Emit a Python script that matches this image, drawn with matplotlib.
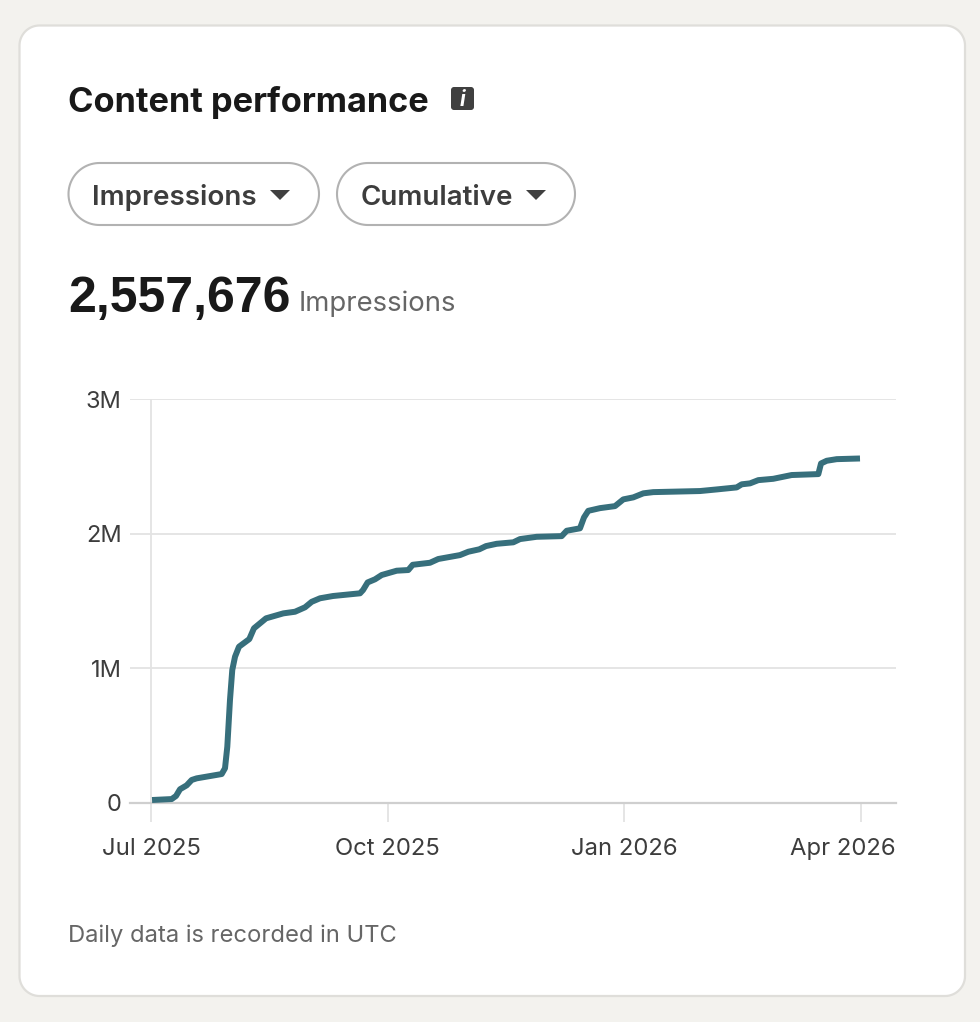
import matplotlib
matplotlib.use("Agg")
import matplotlib.pyplot as plt
import numpy as np
from matplotlib.patches import Polygon
from matplotlib.transforms import ScaledTranslation

# ---- data ----
months = [0.013, 0.262, 0.317, 0.368, 0.452, 0.516, 0.579, 0.896, 0.938, 0.967, 1.001, 1.030,
          1.065, 1.115, 1.246, 1.305, 1.458, 1.677, 1.825, 1.952, 2.037, 2.142, 2.307, 2.649,
          2.687, 2.746, 2.839, 2.924, 3.114, 3.261, 3.317, 3.536, 3.641, 3.916, 4.022, 4.161,
          4.246, 4.381, 4.592, 4.677, 4.888, 5.205, 5.269, 5.437, 5.488, 5.542, 5.691, 5.881,
          5.986, 6.113, 6.240, 6.366, 6.958, 7.170, 7.423, 7.487, 7.592, 7.697, 7.887, 8.120,
          8.458, 8.492, 8.564, 8.691, 8.986]
impressions_m = [0.020, 0.027, 0.050, 0.100, 0.129, 0.169, 0.181, 0.213, 0.256, 0.416, 0.763, 0.986,
                 1.085, 1.159, 1.216, 1.296, 1.370, 1.407, 1.419, 1.452, 1.493, 1.519, 1.536, 1.556,
                 1.580, 1.637, 1.660, 1.692, 1.724, 1.729, 1.768, 1.783, 1.811, 1.840, 1.865, 1.883,
                 1.907, 1.924, 1.935, 1.959, 1.976, 1.981, 2.021, 2.039, 2.120, 2.169, 2.189, 2.204,
                 2.254, 2.269, 2.299, 2.308, 2.316, 2.328, 2.343, 2.366, 2.373, 2.397, 2.407, 2.435,
                 2.442, 2.521, 2.541, 2.553, 2.558]
x_tick_pos = [0, 3, 6, 9]
x_tick_labels = ["Jul 2025", "Oct 2025", "Jan 2026", "Apr 2026"]
y_tick_pos = [0, 1, 2, 3]
y_tick_labels = ["0", "1M", "2M", "3M"]

W, H = 980, 1022
plt.rcParams["font.family"] = ["Inter", "Liberation Sans", "DejaVu Sans"]
fig = plt.figure(figsize=(W / 100, H / 100), dpi=100, facecolor="#f3f2ee")

# page furniture in pixel coordinates
bg = fig.add_axes([0, 0, 1, 1], zorder=0)
bg.set_xlim(0, W); bg.set_ylim(H, 0); bg.axis("off")

def rbox(x0, y0, x1, y1, r, **kw):
    a = np.linspace(0, np.pi / 2, 24)
    pts = []
    for cx, cy, start in [(x1 - r, y1 - r, 0), (x0 + r, y1 - r, np.pi / 2),
                          (x0 + r, y0 + r, np.pi), (x1 - r, y0 + r, 1.5 * np.pi)]:
        pts.extend(zip(cx + r * np.cos(a + start), cy + r * np.sin(a + start)))
    bg.add_patch(Polygon(pts, closed=True, **kw))

rbox(19.5, 25.5, 965, 996, 20, fc="white", ec="#dfdeda", lw=1.6)
rbox(68.5, 163, 319, 225, 31, fc="white", ec="#b2b2b2", lw=1.5)
rbox(337, 163, 575, 225, 31, fc="white", ec="#b2b2b2", lw=1.5)
rbox(451, 87, 474, 110, 3, fc="#404040", ec="none")
bg.add_patch(Polygon([(270, 190), (290, 190), (280, 200)], fc="#404040", ec="none"))
bg.add_patch(Polygon([(526, 190), (546, 190), (536, 200)], fc="#404040", ec="none"))

ink = "#191919"; mid = "#3d3d3d"; soft = "#666666"
bg.text(68, 99, "Content performance", fontsize=24.7, fontweight="bold", color=ink, va="center_baseline")
bg.text(462.5, 98, "i", fontsize=15, fontweight="bold", style="italic", color="white", ha="center", va="center_baseline")
bg.text(92, 194.5, "Impressions", fontsize=20, fontweight="semibold", color=mid, va="center_baseline")
bg.text(361, 195, "Cumulative", fontsize=20, fontweight="semibold", color=mid, va="center_baseline")
bg.text(68, 294, "2,557,676", fontsize=36, fontweight="bold", family="Liberation Sans", color=ink, va="center_baseline")
bg.text(299, 300.5, "Impressions", fontsize=19.8, color=soft, va="center_baseline")
bg.text(68, 933.5, "Daily data is recorded in UTC", fontsize=17.1, color=soft, va="center_baseline")

# chart
L, R, T, B = 130, 896, 399, 802.7
ax = fig.add_axes([L / W, 1 - B / H, (R - L) / W, (B - T) / H], zorder=1)
ax.patch.set_alpha(0)
ax.set_xlim((L - 151) / 78.9, (R - 151) / 78.9)
ax.set_ylim(0, 3)
for s in ax.spines.values():
    s.set_visible(False)
ax.set_yticks(y_tick_pos, y_tick_labels)
ax.set_xticks(x_tick_pos, x_tick_labels)
ax.tick_params(axis="y", length=0, pad=6, labelsize=17, labelcolor=mid)
ax.tick_params(axis="x", length=14, width=1.3, color="#e3e3e3", pad=11.5, labelsize=17.2, labelcolor=mid)
last = ax.get_xticklabels()[-1]
last.set_ha("right")
last.set_transform(last.get_transform() + ScaledTranslation(0.35, 0, fig.dpi_scale_trans))
ax.grid(axis="y", color="#e3e3e3", lw=1.3)
ax.axhline(0, color="#cfcfcf", lw=1.6, clip_on=False, zorder=2)
ax.axvline(0, color="#e3e3e3", lw=1.3, zorder=1)
ax.plot(months, impressions_m, color="#376f7c", lw=4.3, solid_joinstyle="round",
        solid_capstyle="butt", zorder=3, clip_on=False)

fig.savefig("out.png", dpi=100, facecolor=fig.get_facecolor())
